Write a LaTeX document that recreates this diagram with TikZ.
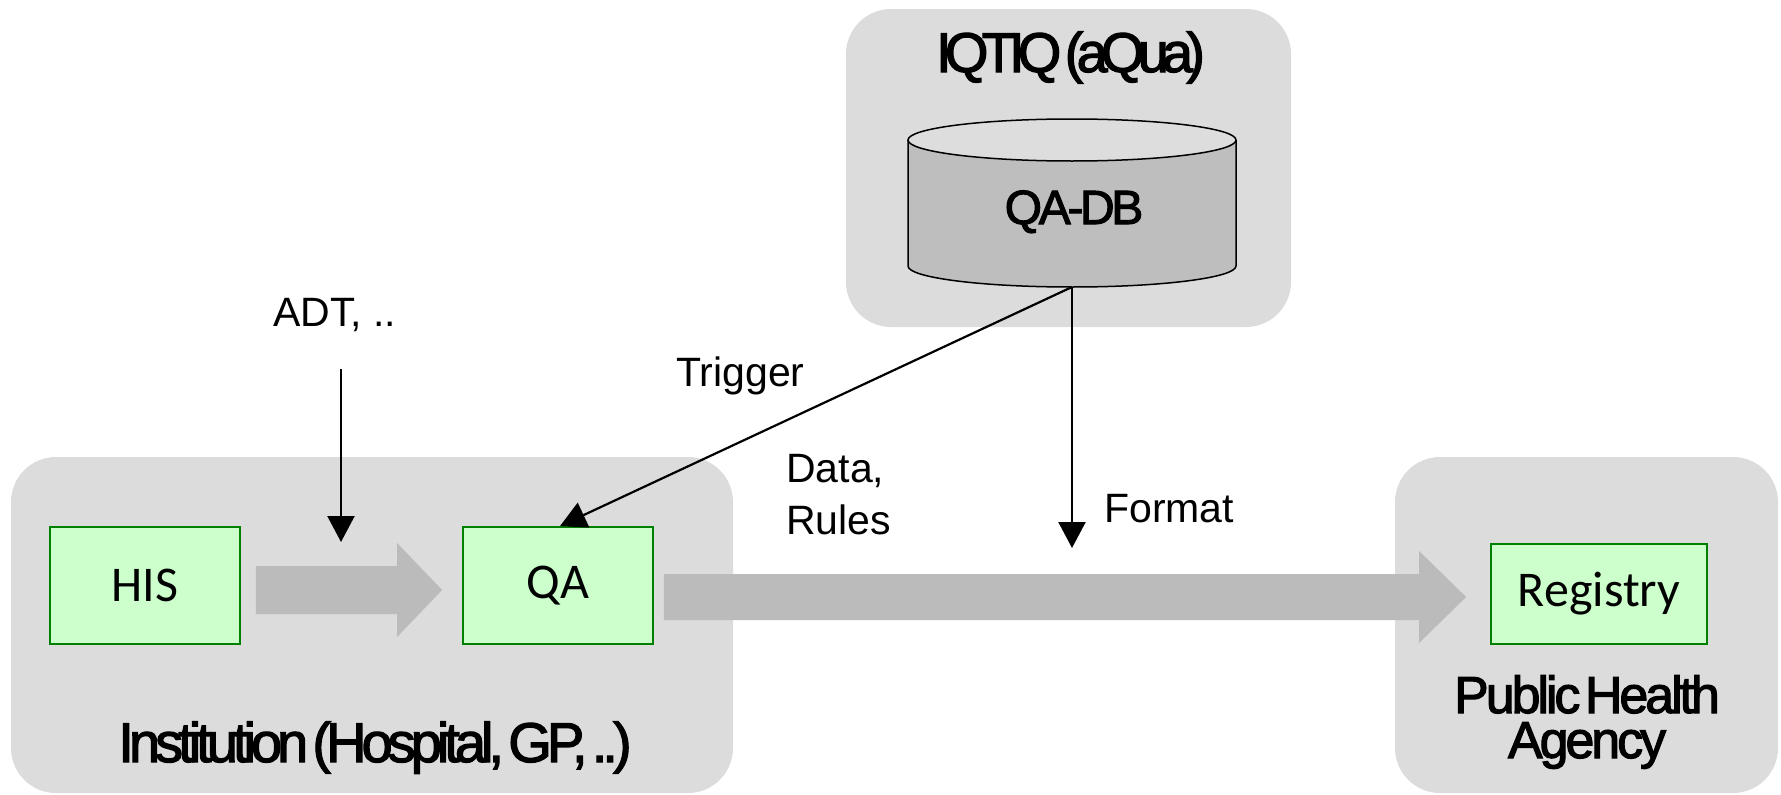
\documentclass[tikz,border=0pt]{standalone}
\usepackage{fontspec}
\setmainfont{Liberation Sans}
\newfontfamily\calib{Carlito}
\newfontfamily\titlefont[WordSpace=0.4,FakeBold=2.2]{Liberation Sans}
\usetikzlibrary{arrows.meta,calc}
\definecolor{contgray}{RGB}{220,220,220}
\definecolor{arrgray}{RGB}{187,187,187}
\definecolor{boxgreen}{RGB}{204,255,204}
\definecolor{boxline}{RGB}{0,128,0}
\definecolor{dbbody}{RGB}{190,190,190}
\definecolor{dbtop}{RGB}{221,221,221}
\begin{document}
\begin{tikzpicture}[x=1pt,y=-1pt,
  cont/.style={fill=contgray, rounded corners=45pt, inner sep=0pt},
  gbox/.style={draw=boxline, fill=boxgreen, line width=1.8pt, inner sep=0pt,
    font=\calib\fontsize{50}{56}\selectfont},
  lbl/.style={inner sep=0pt, font=\fontsize{41}{46}\selectfont},
  title/.style={inner sep=0pt},
  conn/.style={line width=2.2pt, -{Triangle[length=26pt,width=27pt]}},
]
\useasboundingbox (0,0) rectangle (1781,795);
% containers
\node[cont, minimum width=722pt, minimum height=336pt] (inst) at (372,625) {};
\node[cont, minimum width=383pt, minimum height=336pt] (pha) at (1586.5,625) {};
\node[cont, minimum width=445pt, minimum height=318pt] (iqtiq) at (1068.5,168) {};
% cylinder
\fill[dbbody] (908,140) -- (908,266) arc[start angle=180,end angle=0,x radius=164,y radius=21] -- (1236,140) -- cycle;
\draw[line width=1.5pt] (908,140) -- (908,266) arc[start angle=180,end angle=0,x radius=164,y radius=21] -- (1236,140);
\draw[fill=dbtop, line width=1.5pt] (1072,140) ellipse [x radius=164, y radius=21];
\coordinate (dbbot) at (1072,287);
% titles
\node[title, anchor=base, font={\titlefont\fontsize{56}{60}\selectfont\addfontfeature{LetterSpace=-12.2}}] (iqtiqlbl) at (1070.5,72) {IQTIQ (aQua)};
\node[title, anchor=base, font={\titlefont\fontsize{48}{52}\selectfont\addfontfeature{LetterSpace=-7}}] (qadb) at (1074,224) {QA-DB};
\node[title, anchor=base, font={\titlefont\fontsize{56}{60}\selectfont\addfontfeature{LetterSpace=-8.9}}] (instlbl) at (375,762) {Institution (Hospital, GP, ..)};
\node[title, anchor=base, font={\titlefont\fontsize{52}{56}\selectfont\addfontfeature{LetterSpace=-5.9}}] (phalbl) at (1587,713) {Public Health};
\node[title, anchor=base, font={\titlefont\fontsize{52}{56}\selectfont\addfontfeature{LetterSpace=-5.9}}] (phalblb) at (1587,758) {Agency};
% boxes
\node[gbox, minimum width=190pt, minimum height=117pt] (his) at (145,585.5) {HIS};
\node[gbox, minimum width=190pt, minimum height=117pt] (qa) at (558,585.5) {QA};
\node[gbox, minimum width=216pt, minimum height=100pt] (reg) at (1599,594) {Registry};
% block arrows
\fill[arrgray] let \p1=($(his.east)+(15,4.5)$), \p2=($(qa.west)+(-20,4.5)$) in
  (\x1,\y1+24pt) -- (\x2-45pt,\y1+24pt) -- (\x2-45pt,\y1+47pt) -- (\x2,\y1) --
  (\x2-45pt,\y1-47pt) -- (\x2-45pt,\y1-24pt) -- (\x1,\y1-24pt) -- cycle;
\fill[arrgray] let \p1=($(qa.east)+(10,11.5)$), \p2=($(reg.west)+(-24,3)$) in
  (\x1,\y1+23pt) -- (\x2-47pt,\y1+23pt) -- (\x2-47pt,\y1+46pt) -- (\x2,\y1) --
  (\x2-47pt,\y1-46pt) -- (\x2-47pt,\y1-23pt) -- (\x1,\y1-23pt) -- cycle;
% labels
\node[lbl, anchor=base west] (adt) at (273,326) {ADT, ..};
\node[lbl, anchor=base west] (trig) at (676,386) {Trigger};
\node[lbl, anchor=base west] (data) at (786,482) {Data,};
\node[lbl, anchor=base west] (rules) at (786,534) {Rules};
\node[lbl, anchor=base west] (fmt) at (1104,522) {Format};
% connectors
\coordinate (adtstart) at (341,369);
\coordinate (adtend) at (341,542);
\coordinate (fmtend) at (1072,548);
\draw[conn] (adtstart) -- (adtend);
\draw[conn] (dbbot) -- (fmtend);
\draw[conn] (dbbot) -- ($(qa.north)+(2,0)$);
\end{tikzpicture}
\end{document}
